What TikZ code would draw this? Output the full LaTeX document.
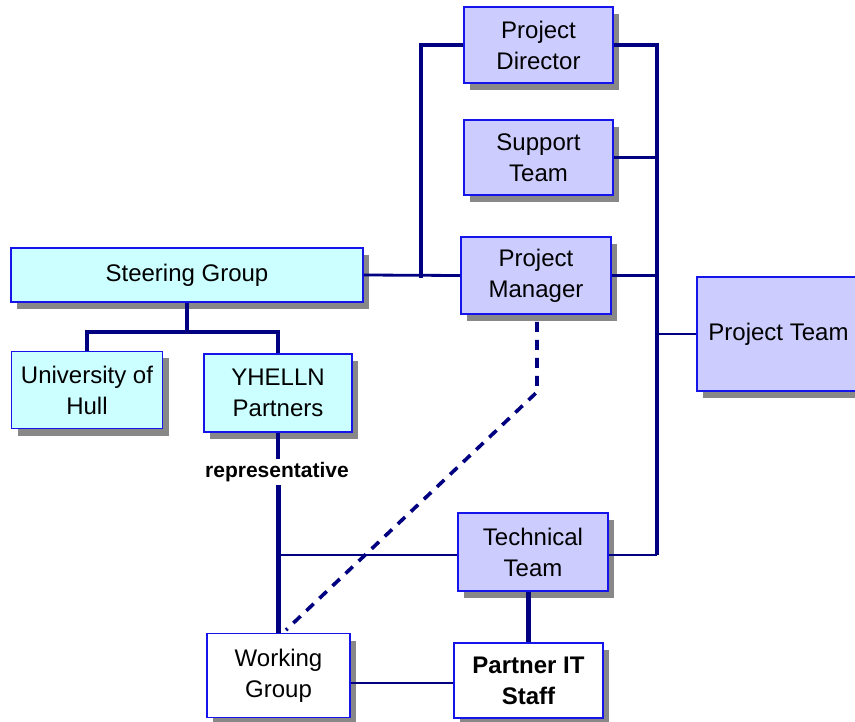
\documentclass[tikz,border=0pt]{standalone}
\usepackage{fontspec}
\setmainfont{Liberation Sans}
\usetikzlibrary{shadows}
\definecolor{lav}{RGB}{204,204,255}
\definecolor{cya}{RGB}{204,255,255}
\definecolor{bord}{RGB}{20,20,235}
\definecolor{navy}{RGB}{0,0,128}
\definecolor{shad}{RGB}{136,136,136}
\tikzset{
  box/.style={draw=bord, line width=1.6pt, rectangle, align=center, inner sep=0pt,
    font=\fontsize{24}{31}\selectfont,
    drop shadow={shadow xshift=6pt, shadow yshift=-7pt, fill=shad, opacity=1}},
  lbox/.style={box, fill=lav},
  cbox/.style={box, fill=cya},
  wbox/.style={box, fill=white},
  thickln/.style={draw=navy, line width=4.5pt},
  thinln/.style={draw=navy, line width=2.8pt},
  dashln/.style={draw=navy, line width=3.6pt, dash pattern=on 10pt off 8pt},
}
\begin{document}
\begin{tikzpicture}[x=1pt,y=-1pt]
\useasboundingbox (0,0) rectangle (855,722);
\fill[white] (0,0) rectangle (855,722);
\clip (0,0) rectangle (855,722);

% nodes
\node[lbox, minimum width=149pt, minimum height=76pt] (PD) at (538.5,45) {Project\\Director};
\node[lbox, minimum width=149pt, minimum height=75pt] (ST) at (538.5,157.5) {Support\\Team};
\node[lbox, minimum width=150pt, minimum height=77pt] (PM) at (536,275.5) {Project\\Manager};
\node[lbox, minimum width=163pt, minimum height=114pt] (PT) at (778.5,334) {Project Team};
\node[cbox, minimum width=352pt, minimum height=54pt] (SG) at (187,275) {Steering Group};
\node[cbox, minimum width=151pt, minimum height=77pt] (UH) at (87,390) {University of\\Hull};
\node[cbox, minimum width=148pt, minimum height=78pt] (YP) at (278,393) {YHELLN\\Partners};
\node[lbox, minimum width=150pt, minimum height=78pt] (TT) at (533,552) {Technical\\Team};
\node[wbox, minimum width=143pt, minimum height=84pt] (WG) at (278.5,675.5) {Working\\Group};
\node[wbox, minimum width=149pt, minimum height=75pt, font=\fontsize{24}{31}\selectfont\bfseries] (PIT) at (528.5,680.5) {Partner IT\\Staff};
\node[font=\fontsize{21}{24}\selectfont\bfseries, inner sep=3pt] (rep) at (277,472) {representative};

% junction coordinates
\coordinate (jl) at (421,278);
\coordinate (jr) at (657,555);
\coordinate (sj) at (187,332);
\coordinate (tj) at (278,555);
\coordinate (d1) at (537,392);
\coordinate (d2) at (286,630);
\coordinate (tv) at (528.5,600);

% left bracket
\draw[thickln] (PD.west) -| (jl);
\draw[thinln] (SG.east) -- (PM.west);
% right bracket
\draw[thickln] (PD.east) -| (jr);
\draw[thinln] (ST.east) -- (ST.east -| jr);
\draw[thinln] (PM.east) -- (PM.east -| jr);
\draw[thinln] (PT.west) -- (PT.west -| jr);
\draw[thinln] (TT.east |- jr) -- (jr);
% steering group tree
\draw[thickln] (SG.south) -- (sj);
\draw[thickln] (UH.north) |- (sj) -| (YP.north);
% YHELLN to working group
\draw[thickln] (YP.south) -- (YP.south |- rep.north);
\draw[thickln] (WG.north |- rep.south) -- (WG.north);
\draw[thinln] (tj) -- (TT.west |- tj);
% technical team to partner IT
\draw[thickln] (TT.south -| tv) -- (PIT.north);
\draw[thinln] (WG.east |- 0,683) -- (PIT.west |- 0,683);
% dashed line
\draw[dashln, shorten <=7pt] (PM.south -| d1) -- (d1) -- (d2);
\end{tikzpicture}
\end{document}
